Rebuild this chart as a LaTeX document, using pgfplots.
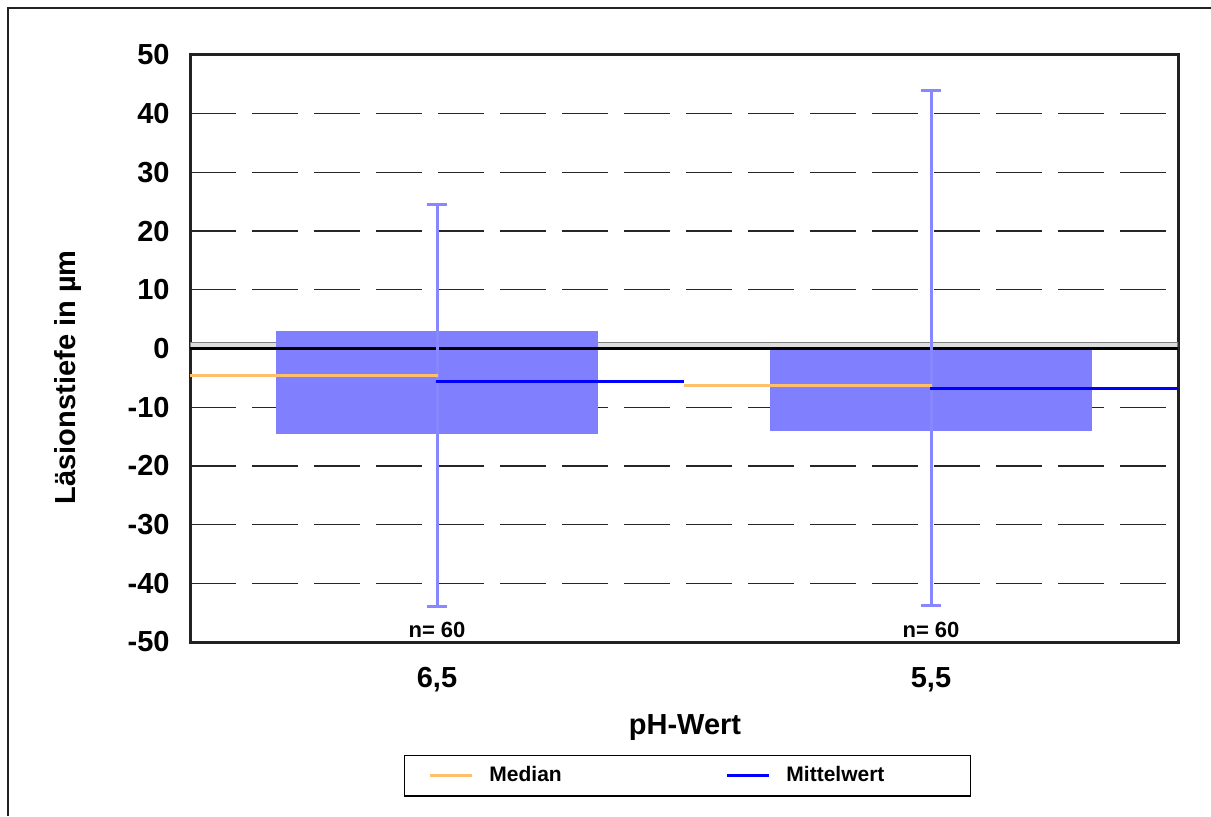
\documentclass[border=0pt]{standalone}
\usepackage{pgfplots}
\pgfplotsset{compat=1.18}
\usepackage{fontspec}
\setmainfont{Liberation Sans}
\definecolor{boxblue}{RGB}{128,128,255}
\definecolor{errblue}{RGB}{135,135,255}
\definecolor{medorange}{RGB}{255,192,108}
\definecolor{meanblue}{RGB}{0,0,255}
\definecolor{framegray}{RGB}{34,34,34}
\begin{document}
\begin{tikzpicture}
\useasboundingbox (0,0) rectangle (605.5pt,408pt);
\draw[line width=0.75pt, framegray] (4pt,0) -- (4pt,404pt) -- (605.5pt,404pt);
\begin{axis}[
  at={(95pt,87pt)}, anchor=south west, scale only axis,
  width=494pt, height=293.5pt,
  xmin=0, xmax=2, ymin=-50, ymax=50,
  xtick={0.5,1.5}, xticklabels={{6,5},{5,5}},
  ytick={-50,-40,-30,-20,-10,0,10,20,30,40,50},
  yticklabels={-50,-40,-30,-20,-10,0,10,20,30,40,50},
  major tick length=0pt,
  tick label style={font=\fontsize{14.5}{17}\selectfont\bfseries},
  xticklabel style={yshift=-9pt},
  yticklabel style={xshift=-6.7pt},
  ymajorgrids,
  grid style={black!85, line width=0.6pt, dash pattern=on 23pt off 8pt},
  axis line style={line width=1.5pt, draw=framegray},
  xlabel={pH-Wert},
  ylabel={Läsionstiefe in µm},
  label style={font=\fontsize{14.5}{17}\selectfont\bfseries},
  xlabel style={at={(axis description cs:0.501,-0.1465)}, anchor=center},
  ylabel style={at={(axis description cs:-0.1235,0.451)}, anchor=center},
  legend style={
    at={(axis description cs:0.5035,-0.228)}, anchor=center,
    draw=black, line width=0.75pt, fill=white,
    inner xsep=12pt, inner ysep=4pt,
    font=\fontsize{10.5}{12}\selectfont\bfseries,
    nodes={inner xsep=0pt, inner ysep=1.5pt, text width=80pt, align=left},
    /tikz/every odd column/.append style={column sep=8pt},
    /tikz/every even column/.append style={column sep=38pt},
  },
  legend columns=2,
  legend cell align=left,
  legend image code/.code={\draw[#1, line width=1.5pt] (0pt,0pt) -- (21pt,0pt);},
]
% grey band at zero
\addplot[forget plot, fill=black!13, draw=black!50, line width=0.75pt] coordinates {(0,0) (2,0) (2,1) (0,1)} -- cycle;
% boxes
\addplot[forget plot, fill=boxblue, draw=none] coordinates {(0.174,-14.65) (0.826,-14.65) (0.826,2.9) (0.174,2.9)} -- cycle;
\addplot[forget plot, fill=boxblue, draw=none] coordinates {(1.174,-14.1) (1.826,-14.1) (1.826,0) (1.174,0)} -- cycle;
% zero line
\addplot[forget plot, black, line width=1.5pt] coordinates {(0,0) (2,0)};
% whiskers
\addplot[forget plot, errblue, line width=1.5pt] coordinates {(0.5,24.5) (0.5,-44)};
\addplot[forget plot, errblue, line width=1.5pt] coordinates {(0.48,24.5) (0.52,24.5)};
\addplot[forget plot, errblue, line width=1.5pt] coordinates {(0.48,-44) (0.52,-44)};
\addplot[forget plot, errblue, line width=1.5pt] coordinates {(1.5,44) (1.5,-43.8)};
\addplot[forget plot, errblue, line width=1.5pt] coordinates {(1.48,44) (1.52,44)};
\addplot[forget plot, errblue, line width=1.5pt] coordinates {(1.48,-43.8) (1.52,-43.8)};
% medians
\addplot[medorange, line width=1.5pt] coordinates {(0,-4.6) (0.502,-4.6)};
\addlegendentry{Median}
\addplot[forget plot, medorange, line width=1.5pt] coordinates {(1,-6.3) (1.502,-6.3)};
% means
\addplot[meanblue, line width=1.5pt] coordinates {(0.498,-5.6) (1,-5.6)};
\addlegendentry{Mittelwert}
\addplot[forget plot, meanblue, line width=1.5pt] coordinates {(1.498,-6.8) (2,-6.8)};
% n labels
\node[font=\fontsize{11}{13}\selectfont\bfseries] at (axis cs:0.5,-47.9) {n= 60};
\node[font=\fontsize{11}{13}\selectfont\bfseries] at (axis cs:1.5,-47.9) {n= 60};
\end{axis}
\end{tikzpicture}
\end{document}
